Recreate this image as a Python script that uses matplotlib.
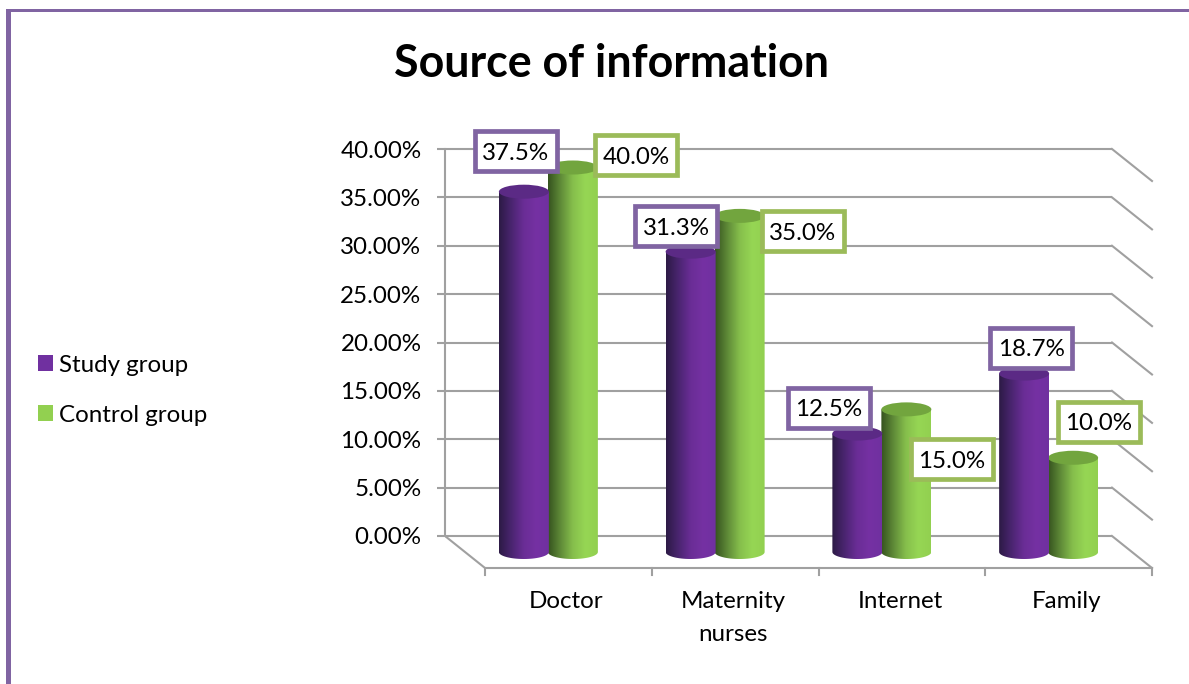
import numpy as np
import matplotlib
matplotlib.use("Agg")
import matplotlib.pyplot as plt
from matplotlib.colors import LinearSegmentedColormap
from matplotlib.patches import Patch, PathPatch, Rectangle, Ellipse
from matplotlib.path import Path

W, H = 1189, 684

categories = ["Doctor", "Maternity\nnurses", "Internet", "Family"]
study = [37.5, 31.3, 12.5, 18.7]
control = [40.0, 35.0, 15.0, 10.0]
y_ticks = [0, 5, 10, 15, 20, 25, 30, 35, 40]

# box centres of the data labels, in pixels from the top left
study_boxes = [(516, 151), (676, 226), (829, 408), (1031, 348)]
control_boxes = [(636, 155), (803, 231), (952, 459), (1099, 422)]

PURPLE_EDGE = "#8064a2"
GREEN_EDGE = "#9bbb59"
GRID = "#a0a0a0"
TEXT_SIZE = 17.4

plt.rcParams["font.family"] = ["Lato", "DejaVu Sans"]
fig = plt.figure(figsize=(W / 100, H / 100), dpi=100)

# 166.75 px per category, 9.675 px per percent on the back wall
px_x = 166.75
px_y = 9.675
x_min, x_max = 0, 4.4
y_min, y_max = -5, 42
ax = fig.add_axes([445 / W, 1 - (536 - y_min * px_y) / H,
                   (x_max - x_min) * px_x / W, (y_max - y_min) * px_y / H])
ax.patch.set_alpha(0)

depth_x = 40 / px_x
depth_y = -32 / px_y

# walls and floor
ax.hlines(y_ticks, 0, 4, color=GRID, lw=1.5, zorder=1)
for v in y_ticks:
    ax.plot([4, 4 + depth_x], [v, v + depth_y], color=GRID, lw=1.5, zorder=1)
ax.plot([0, depth_x, 4 + depth_x], [0, depth_y, depth_y], color=GRID, lw=1.5, zorder=1)
for i in range(5):
    ax.plot([i + depth_x] * 2, [depth_y, depth_y - 7 / px_y], color=GRID, lw=1.5, zorder=1)

for name in ("top", "right", "bottom"):
    ax.spines[name].set_visible(False)
ax.spines["left"].set_bounds(0, 40)
ax.spines["left"].set_color(GRID)
ax.spines["left"].set_linewidth(1.5)
ax.set_xticks([])
ax.set_yticks(y_ticks)
ax.set_yticklabels([f"{v:.2f}%" for v in y_ticks], fontsize=TEXT_SIZE, color="black")
ax.tick_params(axis="y", length=6, width=1.5, color=GRID, pad=11)

purple_map = LinearSegmentedColormap.from_list(
    "purple", ["#2c1a45", "#4a2570", "#6a2d96", "#7531a3", "#7030a0"])
green_map = LinearSegmentedColormap.from_list(
    "green", ["#35521f", "#5f8a38", "#86bf4c", "#96d654", "#92d050"])


def cylinder(center, value, width, cmap, top_color, order):
    half = width / 2
    ry = 7 / px_y
    base = depth_y / 2
    # the tops sit a little under the nominal height in the 3D projection
    top = value + base - 2.5 / px_y
    t = np.linspace(np.pi, 2 * np.pi, 40)
    xs = np.concatenate([center + half * np.cos(t), [center + half, center - half]])
    ys = np.concatenate([base + ry * np.sin(t), [top, top]])
    body = PathPatch(Path(np.column_stack([xs, ys])), fc="none", ec="none", zorder=order)
    ax.add_patch(body)
    grad = np.linspace(0, 1, 256).reshape(1, -1)
    im = ax.imshow(grad, cmap=cmap, extent=(center - half, center + half, base - ry, top),
                   aspect="auto", zorder=order)
    im.set_clip_path(body)
    ax.add_patch(Ellipse((center, top), width, 2 * ry, fc=top_color, ec="none",
                         zorder=order + 0.1))


bar_w = 50 / px_x
for i in range(len(categories)):
    center = i + 0.5 + depth_x / 2
    cylinder(center + 24.5 / px_x, control[i], bar_w, green_map, "#72a53e", 3 + i)
    cylinder(center - 24.5 / px_x, study[i], bar_w, purple_map, "#5b2a85", 3.5 + i)
    ax.text(i + 0.5 + depth_x - 2 / px_x, depth_y - 23 / px_y, categories[i], ha="center", va="top",
            fontsize=TEXT_SIZE, color="black", linespacing=1.69)

ax.set_xlim(x_min, x_max)
ax.set_ylim(y_min, y_max)


def value_box(center, value, edge):
    bw, bh = 82, 40
    cx, cy = center
    fig.add_artist(Rectangle(((cx - bw / 2) / W, 1 - (cy + bh / 2) / H), bw / W, bh / H,
                             transform=fig.transFigure, fc="white", ec=edge, lw=3.4, zorder=10))
    fig.text(cx / W, 1 - cy / H, f"{value:.1f}%", ha="center", va="center_baseline",
             fontsize=TEXT_SIZE, color="black", zorder=11)


for center, value in zip(study_boxes, study):
    value_box(center, value, PURPLE_EDGE)
for center, value in zip(control_boxes, control):
    value_box(center, value, GREEN_EDGE)

fig.text(611 / W, 1 - 64 / H, "Source of information", ha="center", va="center",
         fontsize=32.2, fontweight="bold", color="black")

handles = [Patch(fc="#7030a0", ec="none", label="Study group"),
           Patch(fc="#92d050", ec="none", label="Control group")]
fig.legend(handles=handles, loc="center left", bbox_to_anchor=(38 / W, 1 - 390 / H),
           frameon=False, fontsize=TEXT_SIZE, handlelength=0.62, handleheight=0.62,
           handletextpad=0.25, labelspacing=1.2, borderpad=0, borderaxespad=0,
           labelcolor="black")

# page border
fig.add_artist(Rectangle((6 / W, 0), 5 / W, 1 - 9 / H, transform=fig.transFigure,
                         fc=PURPLE_EDGE, ec="none"))
fig.add_artist(Rectangle((6 / W, 1 - 12 / H), 1 - 6 / W, 3 / H, transform=fig.transFigure,
                         fc=PURPLE_EDGE, ec="none"))

fig.savefig("out.png", dpi=100)
